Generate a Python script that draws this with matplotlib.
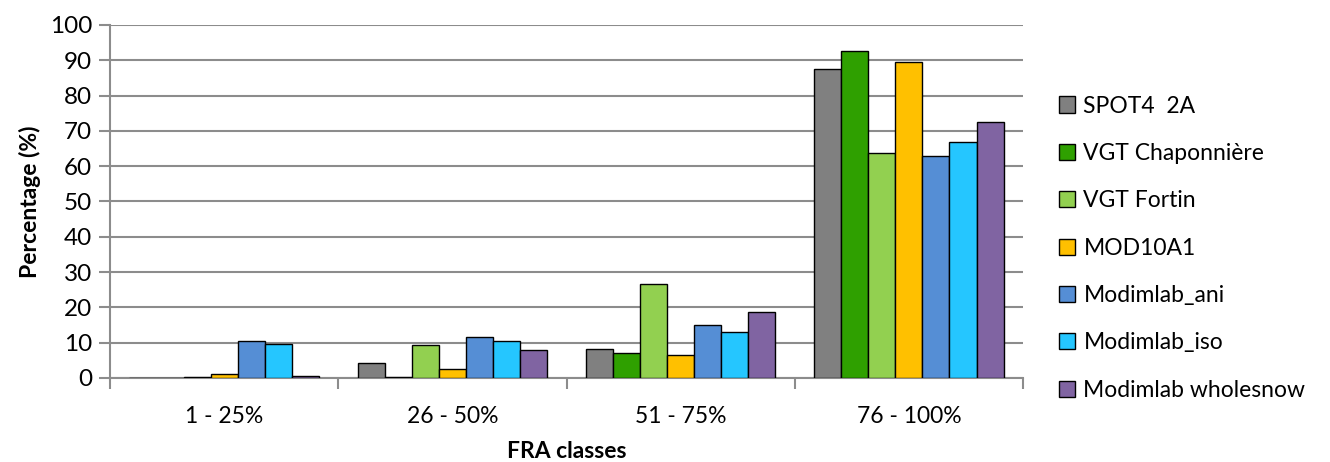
import numpy as np
import matplotlib
matplotlib.use("Agg")
from matplotlib import pyplot as plt

plt.rcParams['font.family'] = ['Lato', 'DejaVu Sans']

classes = ["1 - 25%", "26 - 50%", "51 - 75%", "76 - 100%"]
series = ["SPOT4  2A", "VGT Chaponnière", "VGT Fortin", "MOD10A1",
          "Modimlab_ani", "Modimlab_iso", "Modimlab wholesnow"]
spot4 = [0.0, 4.2, 8.3, 87.5]
vgt_chap = [0.0, 0.3, 7.1, 92.6]
vgt_fortin = [0.3, 9.4, 26.5, 63.7]
mod10a1 = [1.2, 2.6, 6.5, 89.6]
modim_ani = [10.6, 11.5, 15.1, 62.8]
modim_iso = [9.6, 10.6, 13.0, 66.9]
modim_whole = [0.65, 7.8, 18.8, 72.5]
values = [spot4, vgt_chap, vgt_fortin, mod10a1, modim_ani, modim_iso, modim_whole]
colors = ["#808080", "#2FA000", "#92D050", "#FFC000", "#558ED5", "#25C6FF", "#8064A2"]

fig = plt.figure(figsize=(13.3, 4.62), dpi=100)
ax = fig.add_axes([0.0827, 0.182, 0.6865, 0.764])

x = np.arange(len(classes))
w = 0.1185
for i, (name, vals, c) in enumerate(zip(series, values, colors)):
    ax.bar(x + (i - 3) * w, vals, width=w, color=c, edgecolor="black",
           linewidth=1.0, label=name, zorder=3)

ax.set_xlim(-0.5, 3.5)
ax.set_ylim(0, 100)
ax.set_yticks(np.arange(0, 101, 10))
ax.yaxis.grid(True, color="#8c8c8c", linewidth=1.5, zorder=0)
ax.set_xticks(np.arange(-0.5, 3.6, 1.0))
ax.set_xticklabels([])
ax.set_xticks(x, minor=True)
ax.set_xticklabels(classes, minor=True)
ax.tick_params(axis="x", which="major", length=8, width=1.5, color="#8c8c8c")
ax.tick_params(axis="x", which="minor", length=0, labelsize=16.5, pad=20)
ax.tick_params(axis="y", length=8, width=1.5, color="#8c8c8c", labelsize=17.5, pad=5)
for s in ["top", "right"]:
    ax.spines[s].set_visible(False)
for s in ["left", "bottom"]:
    ax.spines[s].set_color("#8c8c8c")
    ax.spines[s].set_linewidth(1.5)

ax.set_xlabel("FRA classes", fontsize=16.5, fontweight="bold", labelpad=10)
ax.set_ylabel("Percentage (%)", fontsize=16.5, fontweight="bold", labelpad=6)

handles, labels = ax.get_legend_handles_labels()
fig.legend(handles, labels, loc="center left", bbox_to_anchor=(0.781, 0.463),
           frameon=False, fontsize=16.5, handlelength=0.7, handleheight=0.7,
           handletextpad=0.35, labelspacing=1.15)

fig.savefig("out.png", dpi=100)
